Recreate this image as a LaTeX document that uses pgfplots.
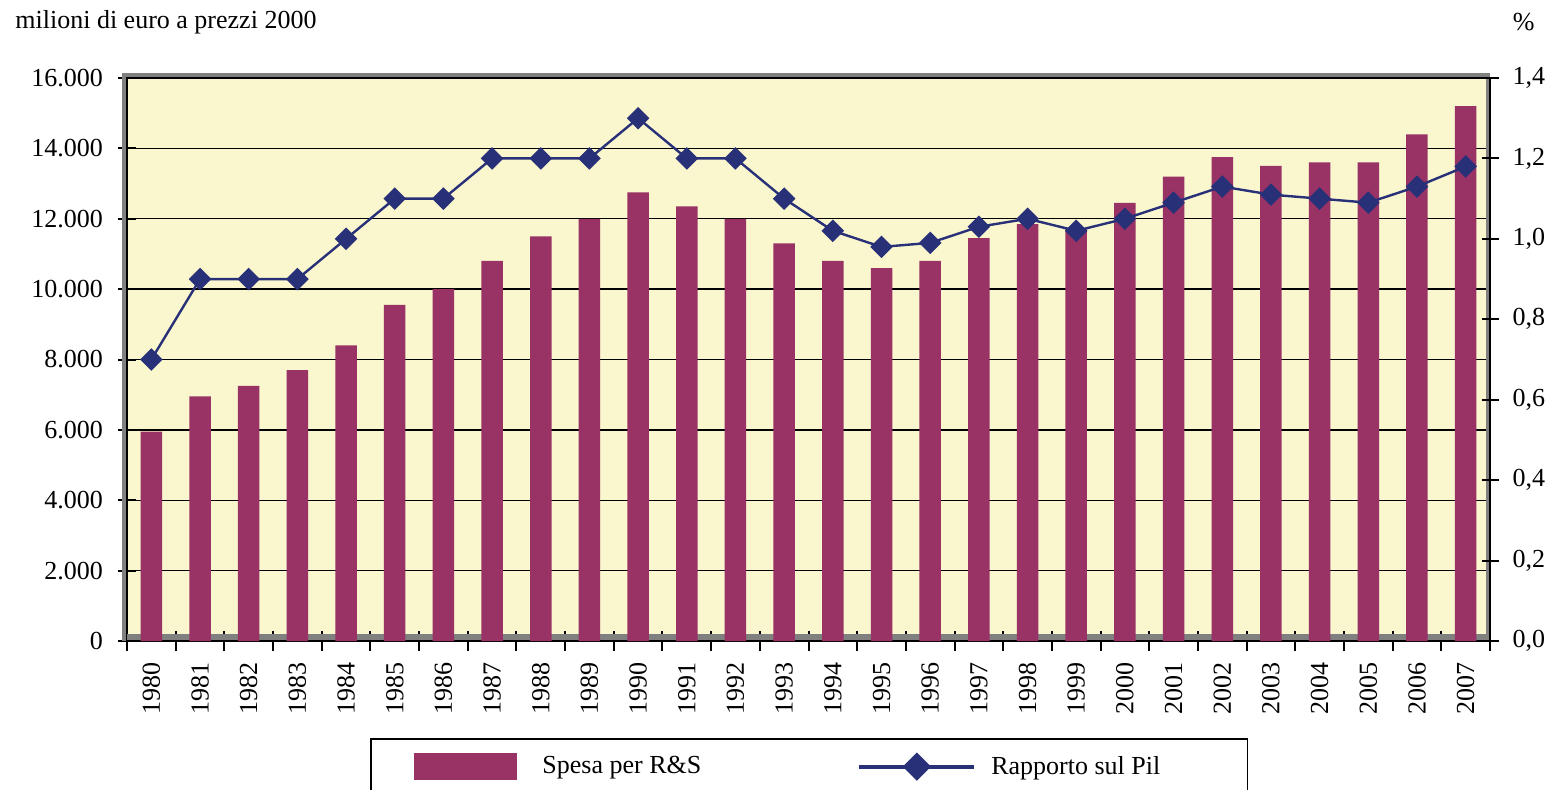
\documentclass[border=0pt]{standalone}
\usepackage{fontspec}
\setmainfont{Liberation Serif}
\usepackage{pgfplots}
\usepackage{pgfplotstable}
\pgfplotsset{compat=1.18}
\definecolor{barc}{RGB}{153,51,102}
\definecolor{linec}{RGB}{40,48,120}
\definecolor{bgc}{RGB}{250,246,206}
\definecolor{framegray}{RGB}{128,128,128}
\pgfplotstableread{
x year spesa pil
0 1980 5950 0.70
1 1981 6950 0.90
2 1982 7250 0.90
3 1983 7700 0.90
4 1984 8400 1.00
5 1985 9550 1.10
6 1986 10000 1.10
7 1987 10800 1.20
8 1988 11500 1.20
9 1989 12000 1.20
10 1990 12750 1.30
11 1991 12350 1.20
12 1992 12000 1.20
13 1993 11300 1.10
14 1994 10800 1.02
15 1995 10600 0.98
16 1996 10800 0.99
17 1997 11450 1.03
18 1998 11850 1.05
19 1999 11700 1.02
20 2000 12450 1.05
21 2001 13200 1.09
22 2002 13750 1.13
23 2003 13500 1.11
24 2004 13600 1.10
25 2005 13600 1.09
26 2006 14400 1.13
27 2007 15200 1.18
}\datatable
\newcommand{\fs}{\fontsize{13}{15}\selectfont}
\begin{document}
\begin{tikzpicture}
\useasboundingbox (-63.5pt,-74pt) rectangle (710pt,320.5pt);
\pgfplotsset{every axis/.append style={
  scale only axis, width=681.5pt, height=281.5pt,
  xmin=-0.5, xmax=27.5, tick align=center, clip=false,
  /pgf/number format/assume math mode=true,
  ticklabel style={font=\fs},
  axis line style={-, black, line width=1pt},
  every tick/.style={black, line width=1pt}}}
\begin{axis}[
  axis x line*=bottom, axis y line*=left,
  axis background/.style={fill=bgc},
  ymin=0, ymax=16000, ytick={0,2000,4000,6000,8000,10000,12000,14000,16000},
  scaled y ticks=false,
  yticklabel style={/pgf/number format/.cd, fixed, 1000 sep={.}, /tikz/.cd, xshift=-4pt},
  ymajorgrids, grid style={black, line width=0.7pt},
  major y tick style={line width=1pt},
  major tick length=9pt,
  xtick={0,...,27}, xticklabels from table={\datatable}{year},
  major x tick style={draw=none},
  minor xtick={-0.5,0.5,...,27.5}, minor tick length=10pt,
  minor x tick style={black, line width=1pt},
  xticklabel style={rotate=90, anchor=east, inner sep=0pt, xshift=-6pt},
]
\draw[framegray, line width=3pt] (rel axis cs:0,0) ++(0pt,2pt) -- ++(681.5pt,0pt);
\draw[framegray, line width=2.25pt] (rel axis cs:0,1) ++(-2.5pt,1.6pt) -- ++(684pt,0pt);
\draw[framegray, line width=2pt] (rel axis cs:0,0) ++(-1.5pt,0pt) -- ++(0pt,283pt);
\draw[framegray, line width=2pt] (rel axis cs:1,0) ++(-1pt,0pt) -- ++(0pt,283pt);
\addplot[ybar, bar width=10.75pt, fill=barc, draw=none] table[x=x, y=spesa] {\datatable};
\end{axis}
\begin{axis}[
  axis y line*=right, axis x line=none,
  ymin=0, ymax=1.4, ytick={0,0.2,0.4,0.6,0.8,1.0,1.2,1.4},
  yticklabel style={/pgf/number format/.cd, fixed, fixed zerofill, precision=1, use comma, /tikz/.cd, xshift=3.5pt},
  major tick length=8.5pt,
  legend columns=2,
  legend style={at={(0.1783,-0.1723)}, anchor=north west, draw=black, line width=0.8pt,
    fill=white, inner xsep=21.5pt, inner ysep=7pt, font=\fs,
    nodes={inner sep=0pt},
    /tikz/column 1/.style={column sep=12.5pt},
    /tikz/column 2/.style={column sep=78pt},
    /tikz/column 3/.style={column sep=7.5pt}},
]
\addlegendimage{legend image code/.code={\fill[barc] (0pt,-6.5pt) rectangle (51pt,6.5pt);}}
\addlegendentry{Spesa per R\&S}
\addplot[linec, line width=1.2pt, mark=square*, mark size=3.4pt,
  mark options={rotate=45, fill=linec, draw=linec},
  legend image code/.code={\draw[linec, line width=2pt, mark=square*, mark size=4pt,
    mark options={rotate=45, fill=linec, draw=linec}, mark repeat=2, mark phase=2]
    plot coordinates {(0pt,0pt) (28.75pt,0pt) (57.5pt,0pt)};}]
  table[x=x, y=pil] {\datatable};
\addlegendentry{Rapporto sul Pil\hspace*{22pt}}
\end{axis}
\node[anchor=west, font=\fs, inner sep=0pt] at (-56pt,309.5pt) {milioni di euro a prezzi 2000};
\node[anchor=east, font=\fs, inner sep=0pt] at (704pt,309.5pt) {\%};
\end{tikzpicture}
\end{document}
